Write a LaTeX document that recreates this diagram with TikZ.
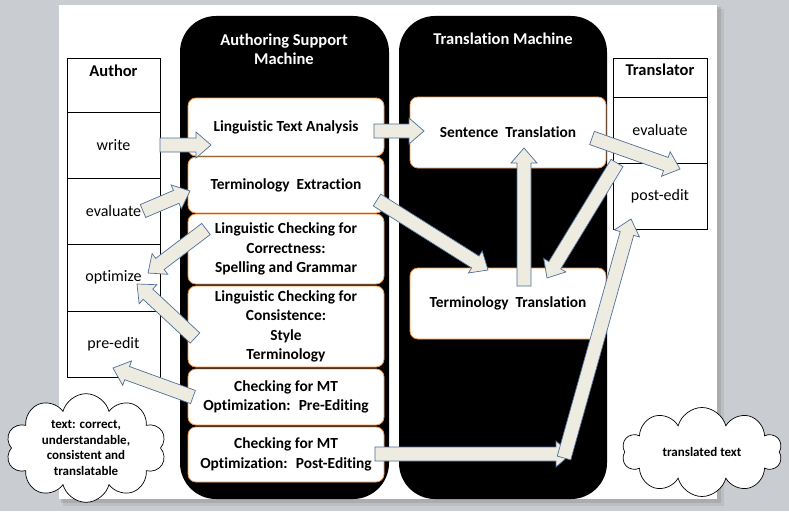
\documentclass[tikz,border=0pt]{standalone}
\usepackage{fontspec}
\setmainfont{Carlito}[Ligatures=NoCommon]
\usetikzlibrary{calc,shapes.symbols}
\definecolor{bgc}{HTML}{C9CCD1}
\definecolor{boxedge}{HTML}{F79646}
\definecolor{arrfill}{HTML}{EEECE1}
\definecolor{arredge}{HTML}{4F6F9A}
\newcommand{\blockarr}[2]{%
  \coordinate (tmpc) at ($(#2)!15pt!(#1)$);
  \filldraw[barrow] ($(#1)!7pt!90:(#2)$) -- ($(tmpc)!7pt!90:(#2)$) -- ($(tmpc)!13pt!90:(#2)$) -- (#2)
     -- ($(tmpc)!13pt!-90:(#2)$) -- ($(tmpc)!7pt!-90:(#2)$) -- ($(#1)!7pt!-90:(#2)$) -- cycle;}
\begin{document}
\begin{tikzpicture}[x=1pt,y=-1pt,
  machine/.style={fill=black, rounded corners=36pt, minimum height=483pt, inner sep=0pt},
  mhead/.style={text=white, font=\bfseries\fontsize{16.5}{19}\selectfont, align=center},
  wbox/.style={draw=boxedge, line width=0.8pt, fill=white, rounded corners=8pt, align=center,
     inner sep=0pt, minimum width=196pt, font=\bfseries\fontsize{15.4}{19.5}\selectfont},
  cell/.style={draw=black, line width=0.8pt, fill=white, inner sep=0pt, font=\fontsize{16}{19}\selectfont},
  hdr/.style={font=\bfseries\fontsize{16.5}{19}\selectfont},
  barrow/.style={fill=arrfill, draw=arredge, line width=0.7pt, line join=miter},
  cloudy/.style={cloud, draw=black, line width=0.7pt, fill=white, cloud puffs=10, aspect=1.9,
     inner sep=0pt, align=center, font=\bfseries\fontsize{13}{15.5}\selectfont}]
\useasboundingbox (0,0) rectangle (789,511);
\fill[bgc] (0,0) rectangle (789,511);
% page with shadow
\fill[black!35, opacity=0.35] (63,9) rectangle (724,506);
\fill[black!45, opacity=0.35] (61,7) rectangle (721,503);
\fill[white] (59,5) rectangle (717,499);

% machines
\node[machine, minimum width=209pt] (asm) at (284.5,257.5) {};
\node[machine, minimum width=208pt] (tm) at (503,257.5) {};
\node[mhead] (asmh) at (284,49.5) {Authoring Support\\Machine};
\node[mhead] (tmh) at (503,39) {Translation Machine};

% left boxes
\node[wbox, minimum height=58pt] (lta) at (286,127) {Linguistic Text Analysis};
\node[wbox, minimum height=56pt] (te) at (286,185) {Terminology~ Extraction};
\node[wbox, minimum height=70pt] (lcc) at (286,249) {Linguistic Checking for\\Correctness:\\Spelling and Grammar};
\node[wbox, minimum height=81pt] (lcs) at (286,326.5) {Linguistic Checking for\\Consistence:\\Style\\Terminology};
\node[wbox, minimum height=56pt] (cpre) at (286,397) {Checking for MT\\Optimization:~ Pre-Editing};
\node[wbox, minimum height=55pt] (cpost) at (286,454.5) {Checking for MT\\Optimization:~ Post-Editing};

% right boxes
\node[wbox, minimum height=71pt] (st) at (508,132.5) {Sentence~ Translation};
\node[wbox, minimum height=71pt] (tt) at (508,303.5) {Terminology~ Translation};

% author table
\node[cell, minimum width=93pt, minimum height=54pt] (authc) at (113.5,85) {};
\node[hdr] (auth) at (113.5,71) {Author};
\node[cell, minimum width=93pt, minimum height=66pt] (write) at (113.5,145) {write};
\node[cell, minimum width=93pt, minimum height=66pt] (aeval) at (113.5,211) {evaluate};
\node[cell, minimum width=93pt, minimum height=67pt] (opt) at (113.5,277.5) {optimize};
\node[cell, minimum width=93pt, minimum height=66pt] (pre) at (113.5,344) {pre-edit};

% translator table
\node[cell, minimum width=94pt, minimum height=39pt] (transc) at (660,77.5) {};
\node[hdr] (trans) at (660,70) {Translator};
\node[cell, minimum width=94pt, minimum height=66pt] (teval) at (660,130) {evaluate};
\node[cell, minimum width=94pt, minimum height=66pt] (post) at (660,196) {post-edit};

% clouds
\node[cloudy, minimum width=160pt, minimum height=84pt] (c1) at (86,448) {text: correct,\\understandable,\\consistent and\\translatable};
\node[cloudy, minimum width=160pt, minimum height=89pt] (c2) at (702,452) {translated text};

% arrow end points
\coordinate (a1s) at (160,145); \coordinate (a1e) at (211,145);
\coordinate (a2s) at (143,211); \coordinate (a2e) at (190,191);
\coordinate (a3s) at (206,229); \coordinate (a3e) at (148,273);
\coordinate (a4s) at (195,338); \coordinate (a4e) at (137,284);
\coordinate (a5s) at (193,397); \coordinate (a5e) at (113,368);
\coordinate (a6s) at (374,131); \coordinate (a6e) at (424,131);
\coordinate (a7s) at (377,200); \coordinate (a7e) at (488,270);
\coordinate (a8s) at (524,286); \coordinate (a8e) at (524,148);
\coordinate (a9s) at (592,138); \coordinate (a9e) at (680,169);
\coordinate (a10s) at (617,163); \coordinate (a10e) at (547,278);
\coordinate (a11s) at (375,454); \coordinate (a11e) at (571,454);
\coordinate (a12s) at (564,458); \coordinate (a12e) at (631,219);

\blockarr{a1s}{a1e}
\blockarr{a2s}{a2e}
\blockarr{a3s}{a3e}
\blockarr{a4s}{a4e}
\blockarr{a5s}{a5e}
\blockarr{a6s}{a6e}
\blockarr{a7s}{a7e}
\blockarr{a8s}{a8e}
\blockarr{a9s}{a9e}
\blockarr{a10s}{a10e}
\blockarr{a11s}{a11e}
\blockarr{a12s}{a12e}
\end{tikzpicture}
\end{document}
